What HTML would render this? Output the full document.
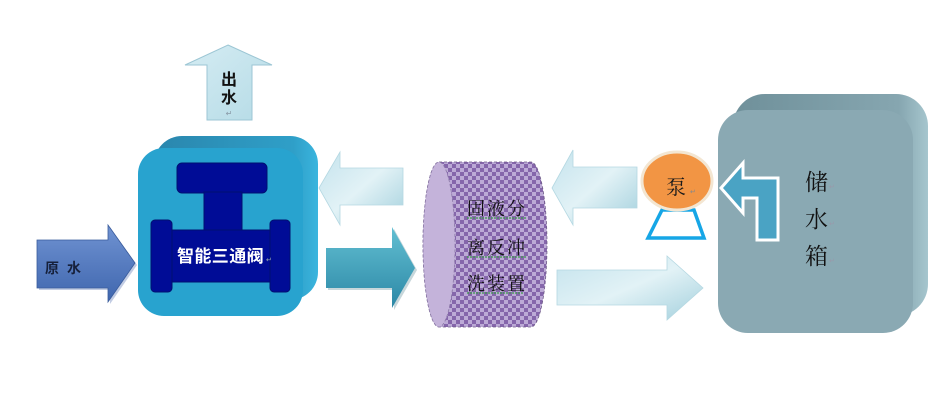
<!DOCTYPE html>
<html><head><meta charset="utf-8"><style>
html,body{margin:0;padding:0;background:#fff;}
svg{display:block;}
text{font-family:"Liberation Sans","Noto Sans CJK SC",sans-serif;}
.serif{font-family:"Liberation Serif","Noto Serif CJK SC",serif;}
</style></head><body>
<svg width="942" height="410" viewBox="0 0 942 410" xmlns="http://www.w3.org/2000/svg">
<defs>
<pattern id="chk" width="8" height="8" patternUnits="userSpaceOnUse">
<rect width="8" height="8" fill="#bcaad6"/>
<rect width="4" height="4" fill="#8566ab"/>
<rect x="4" y="4" width="4" height="4" fill="#8566ab"/>
</pattern>
<linearGradient id="gRaw" x1="0" y1="0" x2="0" y2="1"><stop offset="0" stop-color="#7093d2"/><stop offset="1" stop-color="#3f66ae"/></linearGradient>
<linearGradient id="gLight" x1="0" y1="0" x2="1" y2="1"><stop offset="0" stop-color="#c4e3ed"/><stop offset="0.5" stop-color="#e2f2f6"/><stop offset="1" stop-color="#a3d0dd"/></linearGradient>
<linearGradient id="gTeal" x1="0" y1="0" x2="0" y2="1"><stop offset="0" stop-color="#62bfd2"/><stop offset="1" stop-color="#2c88a6"/></linearGradient>
<linearGradient id="gUp" x1="0" y1="0" x2="1" y2="1"><stop offset="0" stop-color="#d5ecf3"/><stop offset="1" stop-color="#b5dbe6"/></linearGradient>
<linearGradient id="gValveBack" x1="0" y1="0" x2="1" y2="0"><stop offset="0" stop-color="#2a86ad"/><stop offset="0.85" stop-color="#2f9fc8"/><stop offset="1" stop-color="#3ab5de"/></linearGradient>
<linearGradient id="gTankBack" x1="0" y1="0" x2="1" y2="0"><stop offset="0" stop-color="#6f909a"/><stop offset="0.85" stop-color="#86a6b0"/><stop offset="1" stop-color="#a6c6ce"/></linearGradient>
</defs>

<!-- up arrow 出水 -->
<polygon points="228,45 272,65 252,65 252,120 207,120 207,65 185,65" fill="url(#gUp)" stroke="#9cc6d4" stroke-width="1"/>
<text x="229" y="85" font-size="16" font-weight="bold" text-anchor="middle" fill="#111">出</text>
<text x="229" y="103" font-size="16" font-weight="bold" text-anchor="middle" fill="#111">水</text>
<text x="229" y="116" font-size="8" text-anchor="middle" fill="#8a9aa8">↵</text>

<!-- raw water arrow -->
<polygon points="39,242 110,242 110,227 137,265 110,304 110,290 39,290" fill="#9aaad0" opacity="0.6"/>
<polygon points="37,240 108,240 108,225 135,263 108,302 108,288 37,288" fill="url(#gRaw)" stroke="#3a5c9c" stroke-width="0.8"/>
<text x="45" y="273" font-size="14" font-weight="bold" fill="#16203a">原</text>
<text x="67" y="273" font-size="14" font-weight="bold" fill="#16203a">水</text>

<!-- valve box -->
<rect x="154" y="136" width="164" height="164" rx="28" fill="url(#gValveBack)"/>
<rect x="138" y="148" width="165" height="168" rx="26" fill="#28a3cf"/>
<rect x="177" y="163" width="90" height="30" rx="5" fill="#000c96" stroke="#001070" stroke-width="1"/>
<rect x="204" y="192" width="38" height="40" fill="#000c96" stroke="#001070" stroke-width="1"/>
<rect x="168" y="230" width="104" height="52" fill="#000c96" stroke="#001070" stroke-width="1"/>
<rect x="151" y="220" width="21" height="72" rx="4" fill="#000c96" stroke="#001070" stroke-width="1"/>
<rect x="270" y="220" width="20" height="72" rx="4" fill="#000c96" stroke="#001070" stroke-width="1"/>
<text x="177" y="262" font-size="17" font-weight="bold" fill="#ffffff" letter-spacing="0.4">智能三通阀</text>
<text x="266" y="262" font-size="7" fill="#9aa">↵</text>

<!-- arrow cylinder -> valve (light, left) -->
<polygon points="319,188 340,152 340,168 403,168 403,205 340,205 340,225" fill="url(#gLight)" stroke="#b5d8e2" stroke-width="0.8"/>
<!-- arrow valve -> cylinder (teal, right) -->
<polygon points="328,250 394,250 394,229 417,270 394,310 394,290 328,290" fill="#8fb0b8" opacity="0.5"/>
<polygon points="326,248 392,248 392,227 415,268 392,308 392,288 326,288" fill="url(#gTeal)"/>

<!-- cylinder -->
<path d="M439,162 L531,162 A16,82.5 0 0 1 531,327 L439,327 A16,82.5 0 0 1 439,162 Z" fill="url(#chk)" stroke="#6d5a86" stroke-width="0.8" stroke-dasharray="3,2"/>
<ellipse cx="439" cy="244.5" rx="16" ry="82.5" fill="#c4b3da" stroke="#8a78a6" stroke-width="0.8" stroke-dasharray="3,2"/>
<text class="serif" x="467" y="215" font-size="18" fill="#111" letter-spacing="2">固液分</text>
<text class="serif" x="467" y="254" font-size="18" fill="#111" letter-spacing="2">离反冲</text>
<text class="serif" x="467" y="290" font-size="18" fill="#111" letter-spacing="2">洗装置</text>
<line x1="467" y1="218" x2="527" y2="218" stroke="#3a9a4a" stroke-width="1.2" stroke-dasharray="2,1"/>
<line x1="467" y1="257" x2="527" y2="257" stroke="#3a9a4a" stroke-width="1.2" stroke-dasharray="2,1"/>
<line x1="467" y1="293" x2="523" y2="293" stroke="#3a9a4a" stroke-width="1.2" stroke-dasharray="2,1"/>

<!-- arrow pump -> cylinder -->
<polygon points="552,188 573,150 573,167 637,167 637,208 573,208 573,225" fill="url(#gLight)" stroke="#b5d8e2" stroke-width="0.8"/>
<!-- arrow cylinder -> tank -->
<polygon points="557,270 667,270 667,256 703,288 667,320 667,305 557,305" fill="url(#gLight)" stroke="#b5d8e2" stroke-width="0.8"/>

<!-- pump -->
<polygon points="662,210 694,210 704,238 648,238" fill="none" stroke="#16a6e6" stroke-width="3.5"/>
<ellipse cx="677" cy="181" rx="35" ry="29" fill="#f29544" stroke="#f3e6d2" stroke-width="3"/>
<text class="serif" x="676" y="194" font-size="20" text-anchor="middle" fill="#1a1a1a">泵</text>
<text x="690" y="194" font-size="7" fill="#888">↵</text>

<!-- tank -->
<rect x="733" y="94" width="195" height="222" rx="32" fill="url(#gTankBack)"/>
<rect x="718" y="110" width="195" height="223" rx="30" fill="#8aa9b3"/>
<polygon points="721,188 743,163 743,178 778,178 778,240 757,240 757,198 743,198 743,213" fill="#4aa3c4" stroke="#ffffff" stroke-width="3" stroke-linejoin="miter"/>
<text class="serif" x="805" y="190" font-size="23" fill="#111">储</text>
<text class="serif" x="805" y="227" font-size="23" fill="#111">水</text>
<text class="serif" x="805" y="264" font-size="23" fill="#111">箱</text>
<text x="829" y="189" font-size="7" fill="#99a">↵</text>
<text x="829" y="226" font-size="7" fill="#99a">↵</text>
<text x="829" y="263" font-size="7" fill="#99a">↵</text>
</svg>
</body></html>
